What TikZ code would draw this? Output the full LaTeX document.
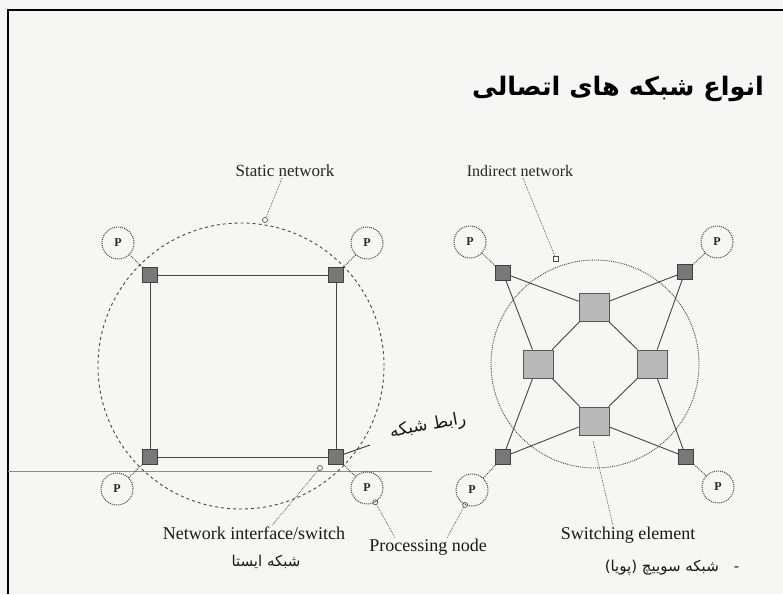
\documentclass[tikz,border=0pt]{standalone}
\usepackage{fontspec}
\setmainfont{Liberation Serif}
\newfontfamily\arabicfont[Script=Arabic]{DejaVu Sans}
\TeXXeTstate=1
\definecolor{bgc}{RGB}{246,246,244}
\definecolor{ink}{RGB}{70,70,70}
\definecolor{sqfill}{RGB}{120,120,120}
\definecolor{sefill}{RGB}{185,185,185}
\tikzset{
  pn/.style={circle, draw=ink, densely dotted, line width=1pt, minimum size=32pt, inner sep=0pt, font=\fontsize{12}{12}\selectfont\bfseries, text=black!85},
  sq/.style={rectangle, draw=black!75, fill=sqfill, line width=0.8pt, minimum size=15pt, inner sep=0pt},
  se/.style={rectangle, draw=black!65, fill=sefill, line width=0.8pt, minimum width=30pt, minimum height=28pt, inner sep=0pt},
  link/.style={draw=ink, line width=0.9pt},
  plink/.style={draw=ink, line width=0.9pt, densely dotted},
  lead/.style={draw=ink, line width=0.7pt, densely dotted},
  mk/.style={circle, draw=ink, line width=0.6pt, minimum size=5pt, inner sep=0pt},
  mksq/.style={rectangle, draw=ink, line width=0.6pt, minimum size=5pt, inner sep=0pt},
  lblS/.style={font=\fontsize{16}{16}\selectfont, text=black!85, inner sep=1pt},
  lblL/.style={font=\fontsize{18}{18}\selectfont, text=black!90, inner sep=1pt},
  hw/.style={font=\arabicfont\fontsize{15}{15}\selectfont, text=black!90, inner sep=1pt}
}
\begin{document}
\begin{tikzpicture}[x=1pt,y=-1pt]
\useasboundingbox (0,0) rectangle (783,594);
\fill[bgc] (0,0) rectangle (783,594);
% frame
\draw[black, line width=2.5pt] (8,594) -- (8,10) -- (783,10);
\draw[black!45, line width=0.6pt] (8,471) -- (432,471);
% title
\node[font=\arabicfont\bfseries\fontsize{25.5}{25.5}\selectfont, inner sep=0pt] (title) at (618,89) {\beginR انواع شبکه های اتصالی\endR};

% ===== Static network =====
\node[circle, draw=ink, dashed, line width=0.9pt, minimum size=286pt, inner sep=0pt] (sc) at (241,366) {};
\node[sq] (ls1) at (150,275) {};
\node[sq] (ls2) at (336,275) {};
\node[sq] (ls3) at (150,457) {};
\node[sq] (ls4) at (336,457) {};
\draw[link] (ls1) -- (ls2);
\draw[link] (ls2) -- (ls4);
\draw[link] (ls4) -- (ls3);
\draw[link] (ls3) -- (ls1);
\node[pn] (lp1) at (118,243) {P};
\node[pn] (lp2) at (367,243) {P};
\node[pn] (lp3) at (117,489) {P};
\node[pn] (lp4) at (367,488) {P};
\draw[plink] (lp1) -- (ls1);
\draw[plink] (lp2) -- (ls2);
\draw[plink] (lp3) -- (ls3);
\draw[plink] (lp4) -- (ls4);
\node[lblS, font=\fontsize{17}{17}\selectfont] (stl) at (285,171) {Static network};
\node[mk] (stmk) at (265,220) {};
\draw[lead] (stl) -- (stmk);

% ===== Indirect network =====
\node[circle, draw=ink, densely dotted, line width=0.9pt, minimum size=208pt, inner sep=0pt] (ic) at (595,364) {};
\node[se] (e1) at (594,307) {};
\node[se] (e2) at (538,364) {};
\node[se] (e3) at (652,364) {};
\node[se] (e4) at (594,421) {};
\node[sq] (rs1) at (503,273) {};
\node[sq] (rs2) at (685,272) {};
\node[sq] (rs3) at (503,457) {};
\node[sq] (rs4) at (686,457) {};
\draw[link] (e1) -- (e2);
\draw[link] (e1) -- (e3);
\draw[link] (e2) -- (e4);
\draw[link] (e3) -- (e4);
\draw[link] (rs1) -- (e1);
\draw[link] (rs1) -- (e2);
\draw[link] (rs2) -- (e1);
\draw[link] (rs2) -- (e3);
\draw[link] (rs3) -- (e2);
\draw[link] (rs3) -- (e4);
\draw[link] (rs4) -- (e3);
\draw[link] (rs4) -- (e4);
\node[pn] (rp1) at (470,242) {P};
\node[pn] (rp2) at (717,242) {P};
\node[pn] (rp3) at (472,490) {P};
\node[pn] (rp4) at (718,487) {P};
\draw[plink] (rp1) -- (rs1);
\draw[plink] (rp2) -- (rs2);
\draw[plink] (rp3) -- (rs3);
\draw[plink] (rp4) -- (rs4);
\node[lblS] (inl) at (520,171) {Indirect network};
\node[mksq] (inmk) at (556,259) {};
\draw[lead] (inl) -- (inmk);

% ===== bottom labels =====
\node[lblL] (nil) at (254,533) {Network interface/switch};
\node[mk] (nimk) at (320,468) {};
\draw[lead] ([xshift=18pt]nil.north) -- (nimk);

\node[lblL] (pnl) at (428,547) {Processing node};
\node[mk] (pmk1) at (lp4.-60) {};
\node[mk] (pmk2) at (rp3.-115) {};
\draw[lead] ([xshift=-33pt]pnl.north) -- (pmk1);
\draw[lead] ([xshift=19pt]pnl.north) -- (pmk2);

\node[lblL] (sel) at (628,535) {Switching element};
\coordinate (sep) at (593,441);
\draw[lead] ([xshift=-15pt]sel.north) -- (sep);

% ===== handwritten notes =====
\node[hw, font=\arabicfont\fontsize{17}{17}\selectfont, rotate=10] (h1) at (428,426) {\beginR رابط شبکه\endR};
\coordinate (h1a) at (370,445);
\draw[black!85, line width=0.8pt] (ls4) -- (h1a);
\node[hw] (h2) at (266,562) {\beginR شبکه ایستا\endR};
\node[hw] (h3) at (672,568) {\beginR -\quad شبکه سوییچ (پویا)\endR};
\end{tikzpicture}
\end{document}
